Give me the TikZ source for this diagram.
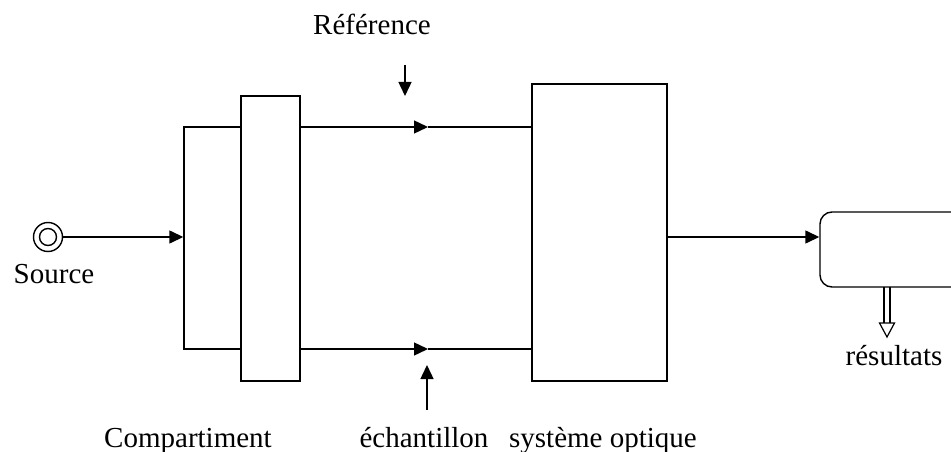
\documentclass[tikz,border=0pt]{standalone}
\usepackage{fontspec}
\setmainfont{Liberation Serif}
\usetikzlibrary{arrows.meta}
\begin{document}
\begin{tikzpicture}[x=1pt,y=-1pt,
  box/.style={draw,line width=1.4pt,minimum width=#1,inner sep=0pt},
  line/.style={line width=1.4pt},
  tip/.style={line width=1.4pt,-{Triangle[length=14pt,width=13pt]}},
  lbl/.style={font=\fontsize{29}{33}\selectfont,inner sep=0pt,anchor=base}]
\useasboundingbox (0,0) rectangle (951,452);
\clip (0,0) rectangle (951,452);
% blocks
\node[box=57pt,minimum height=222pt] (split) at (212.5,238) {};
\node[box=59pt,minimum height=285pt,fill=white] (comp) at (270.5,238.5) {};
\node[box=135pt,minimum height=297pt] (opt) at (599.5,232.5) {};
\node[box=170pt,minimum height=75pt,rounded corners=12pt] (res) at (905,249.5) {};
% source
\node[draw,circle,line width=1.4pt,minimum size=29pt,inner sep=0pt] (src) at (48,237) {};
\node[draw,circle,line width=1.4pt,minimum size=17pt,inner sep=0pt] (srcin) at (48,237) {};
% coordinates
\coordinate (t1) at (428,127);
\coordinate (t2) at (428,349);
\coordinate (rtop) at (405,65);
\coordinate (rbot) at (405,96);
\coordinate (ebot) at (427,410);
\coordinate (etop) at (427,365);
% connectors
\draw[tip] (src.east) -- (split.west |- src.east);
\draw[tip] (comp.east |- t1) -- (t1);
\draw[line] (t1) -- (opt.west |- t1);
\draw[tip] (comp.east |- t2) -- (t2);
\draw[line] (t2) -- (opt.west |- t2);
\draw[tip] (opt.east |- 0,237) -- (res.west |- 0,237);
\draw[tip] (rtop) -- (rbot);
\draw[tip] (ebot) -- (etop);
% double output arrow
\coordinate (d1) at (884,287);
\coordinate (d2) at (890,287);
\draw[line width=1.2pt] (d1) -- (884,324);
\draw[line width=1.2pt] (d2) -- (890,324);
\draw[line width=1.2pt,fill=white] (879.5,323) -- (894.5,323) -- (887,337) -- cycle;
% labels
\node[lbl] (lref) at (372,35) {Référence};
\node[lbl] (lsrc) at (54,283) {Source};
\node[lbl] (lres) at (894,365) {résultats};
\node[lbl] (lcomp) at (188,447) {Compartiment};
\node[lbl] (lech) at (424,447) {échantillon};
\node[lbl] (lopt) at (603,447) {système optique};
\end{tikzpicture}
\end{document}
